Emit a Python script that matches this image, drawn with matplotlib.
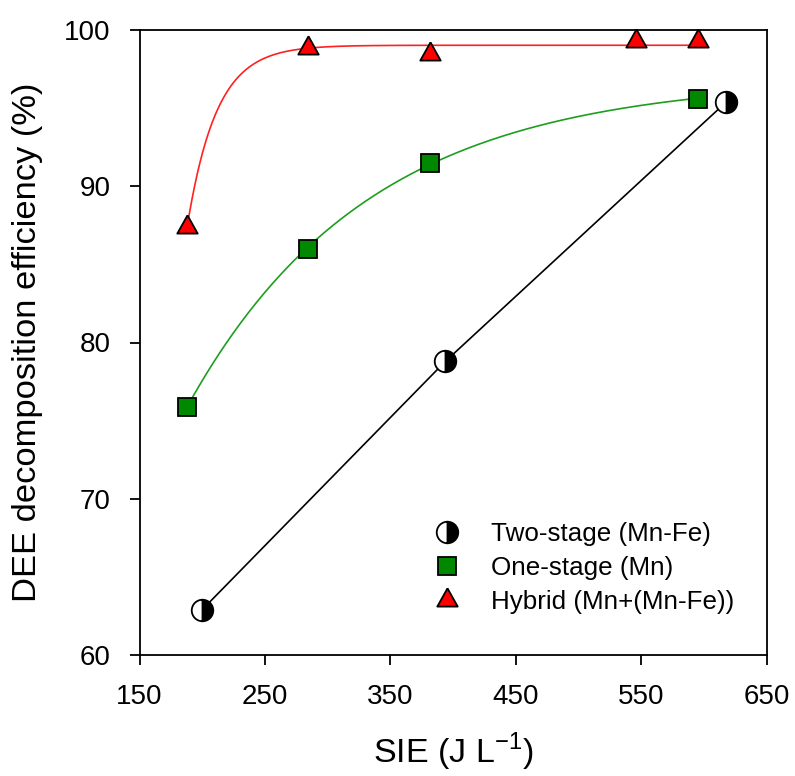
import numpy as np
import matplotlib
matplotlib.use("Agg")
import matplotlib.pyplot as plt
from matplotlib.lines import Line2D

plt.rcParams['font.family'] = ['Liberation Sans', 'DejaVu Sans']

# Specific input energy (J/L) and DEE decomposition efficiency (%)
two_stage_x = [200, 394, 618]
two_stage_y = [62.9, 78.8, 95.4]

one_stage_x = [188, 284, 382, 595]
one_stage_y = [75.9, 86.0, 91.5, 95.6]

hybrid_x = [188, 284, 382, 546, 595]
hybrid_y = [87.4, 98.85, 98.45, 99.3, 99.3]

labels = ["Two-stage (Mn-Fe)", "One-stage (Mn)", "Hybrid (Mn+(Mn-Fe))"]
x_ticks = [150, 250, 350, 450, 550, 650]
y_ticks = [60, 70, 80, 90, 100]


def fit_rise_to_max(x, y):
    """Least-squares fit of y = y0 + a*(1 - exp(-b*(x - x0)))."""
    x = np.asarray(x, float)
    y = np.asarray(y, float)
    x0 = x.min()
    best = None
    for b in np.logspace(-4, 0, 6000):
        basis = np.column_stack([np.ones_like(x), 1 - np.exp(-b * (x - x0))])
        coef, *_ = np.linalg.lstsq(basis, y, rcond=None)
        sse = np.sum((basis @ coef - y) ** 2)
        if best is None or sse < best[0]:
            best = (sse, coef, b)
    _, (y0, a), b = best
    return lambda t: y0 + a * (1 - np.exp(-b * (np.asarray(t) - x0)))


fig = plt.figure(figsize=(7.95, 7.76), dpi=100)
ax = fig.add_axes([139.5 / 795, 1 - 655 / 776, 627 / 795, 625 / 776])

# fitted curves
xs = np.linspace(min(one_stage_x), max(one_stage_x), 400)
ax.plot(xs, fit_rise_to_max(one_stage_x, one_stage_y)(xs), color='#1E9E1E', lw=1.2, zorder=2)
xs = np.linspace(min(hybrid_x), max(hybrid_x), 600)
ax.plot(xs, fit_rise_to_max(hybrid_x, hybrid_y)(xs), color='#FF2020', lw=1.2, zorder=2)
ax.plot(two_stage_x, two_stage_y, color='black', lw=1.2, zorder=2)

# triangle centred on its centroid
tri_path = [(0, 1), (-0.84, -0.5), (0.84, -0.5), (0, 1)]

circ_kw = dict(marker='o', ms=15.5, fillstyle='right', markerfacecolor='black',
               markerfacecoloralt='white', markeredgecolor='black', mew=1.3, ls='none')
sq_kw = dict(marker='s', ms=12.5, markerfacecolor='#008800', markeredgecolor='black',
             mew=1.3, ls='none')
tri_kw = dict(marker=tri_path, ms=17.5, markerfacecolor='#FF0000', markeredgecolor='black',
              mew=1.3, ls='none')

ax.plot(two_stage_x, two_stage_y, zorder=4, clip_on=False, **circ_kw)
ax.plot(one_stage_x, one_stage_y, zorder=4, clip_on=False, **sq_kw)
ax.plot(hybrid_x, hybrid_y, zorder=4, clip_on=False, **tri_kw)

ax.set_xlim(150, 650)
ax.set_ylim(60, 100)
ax.set_xticks(x_ticks)
ax.set_yticks(y_ticks)
ax.tick_params(axis='both', direction='out', length=7, width=1.3, labelsize=20, pad=14,
               top=False, right=False)
for s in ax.spines.values():
    s.set_linewidth(1.3)

ax.set_xlabel("SIE (J L$^{\\mathregular{-1}}$)", fontsize=24.5, va='center')
ax.xaxis.set_label_coords(0.5, (655 - 752) / 625)
ax.set_ylabel("DEE decomposition efficiency (%)", fontsize=24.8, va='center')
ax.yaxis.set_label_coords((28 - 139.5) / 627, 0.5)

handles = [Line2D([], [], **circ_kw), Line2D([], [], **sq_kw), Line2D([], [], **tri_kw)]
ax.legend(handles, labels, loc='center left',
          bbox_to_anchor=((434 - 139.5) / 627, (655 - 568) / 625),
          frameon=False, fontsize=18.7, handlelength=1.0, handletextpad=1.2,
          labelspacing=0.37, borderpad=0, borderaxespad=0, numpoints=1)

fig.savefig("out.png", dpi=100)
